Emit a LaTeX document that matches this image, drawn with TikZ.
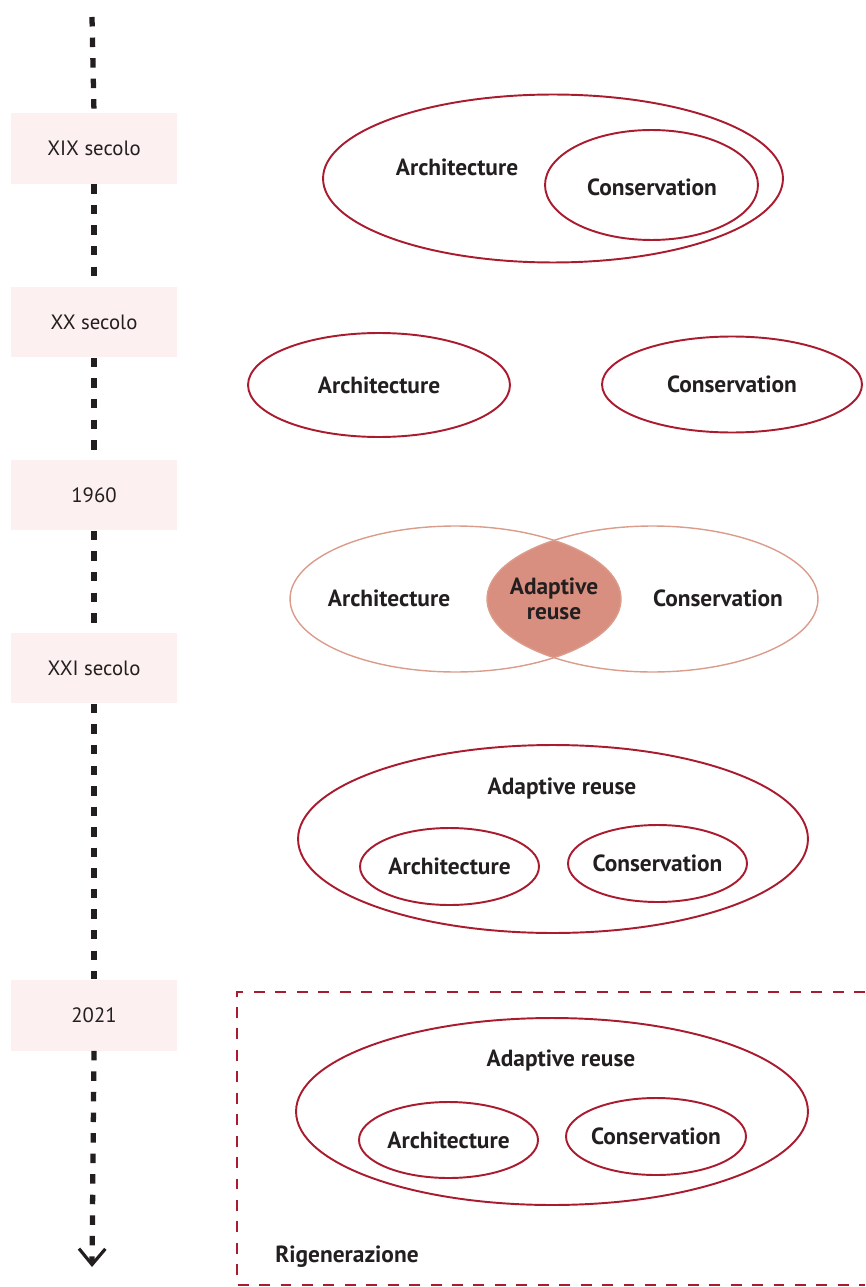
\documentclass[tikz,border=0pt]{standalone}
\usepackage{fontspec}
\setmainfont{PT Sans}
\usetikzlibrary{shapes.geometric,arrows.meta}
\definecolor{wine}{HTML}{A91B2F}
\definecolor{salmon}{HTML}{D98F7F}
\definecolor{lightsalmon}{HTML}{DB9C8C}
\definecolor{blush}{HTML}{FDF0F0}
\definecolor{ink}{HTML}{231F20}
\begin{document}
\begin{tikzpicture}[x=0.02cm,y=-0.02cm]
    \tikzstyle{period}=[fill=blush,minimum width=3.32cm,minimum height=1.42cm,inner sep=0pt,text=ink,font=\fontsize{11.8}{13}\selectfont]
    \tikzstyle{field}=[ellipse,draw=wine,line width=1.1pt,inner sep=0pt]
    \tikzstyle{word}=[text=ink,font=\fontsize{13.3}{14.5}\selectfont\bfseries,align=center]
    \tikzstyle{timeline}=[line width=3pt,dash pattern=on 5.4pt off 6.3pt,ink]
    \useasboundingbox (0,0) rectangle (865,1287);
    % time axis
    \node (b19)[period] at (94,148.5) {XIX secolo};
    \node (b20)[period] at (94,322) {XX secolo};
    \node (b60)[period] at (94,495) {1960};
    \node (b21)[period] at (94,668) {XXI secolo};
    \node (b2021)[period] at (94,1015) {2021};
    \coordinate (top) at (92,17);
    \coordinate (end) at (92,1267);
    \draw [timeline] (top) -- (b19.north);
    \draw [timeline] (b19.south) -- (b20.north);
    \draw [timeline] (b20.south) -- (b60.north);
    \draw [timeline] (b60.south) -- (b21.north);
    \draw [timeline] (b21.south) -- (b2021.north);
    \draw [timeline,-{Straight Barb[length=9pt,width=15pt,line width=1.8pt]}] (b2021.south) -- (end);
    % XIX secolo
    \node (arch19)[field,minimum width=9.2cm,minimum height=3.36cm] at (553,178.5) {};
    \node (cons19)[field,minimum width=4.26cm,minimum height=2.2cm] at (651.5,185) {};
    \node [word] at (457,167) {Architecture};
    \node [word] at (652,187) {Conservation};
    % XX secolo
    \node (arch20)[field,minimum width=5.24cm,minimum height=2.08cm] at (379,385) {};
    \node (cons20)[field,minimum width=5.2cm,minimum height=1.92cm] at (732,384.5) {};
    \node [word] at (arch20) {Architecture};
    \node [word] at (cons20) {Conservation};
    % 1960
    \begin{scope}
        \clip (455.5,599) ellipse [x radius=3.31cm,y radius=1.46cm];
        \fill [salmon] (652.5,599) ellipse [x radius=3.31cm,y radius=1.46cm];
    \end{scope}
    \node (arch60)[field,draw=lightsalmon,line width=0.8pt,minimum width=6.62cm,minimum height=2.92cm] at (455.5,599) {};
    \node (cons60)[field,draw=lightsalmon,line width=0.8pt,minimum width=6.62cm,minimum height=2.92cm] at (652.5,599) {};
    \node [word] at (389,598) {Architecture};
    \node [word] at (718,598) {Conservation};
    \node [word] at (554,599) {Adaptive\\reuse};
    % XXI secolo
    \node (reuse21)[field,minimum width=10.2cm,minimum height=3.76cm] at (553,839) {};
    \node (arch21)[field,minimum width=3.58cm,minimum height=1.54cm] at (449.5,866.5) {};
    \node (cons21)[field,minimum width=3.58cm,minimum height=1.54cm] at (657.5,863.5) {};
    \node [word] at (562,789) {Adaptive reuse};
    \node [word] at (arch21) {Architecture};
    \node [word] at (cons21) {Conservation};
    % 2021
    \draw [wine,line width=0.8pt,dash pattern=on 6.2pt off 6pt] (865,992) -- (237,992) -- (237,1285) -- (865,1285);
    \node (reuse2021)[field,minimum width=10.24cm,minimum height=3.74cm] at (552,1111.5) {};
    \node (arch2021)[field,minimum width=3.58cm,minimum height=1.52cm] at (448.5,1140) {};
    \node (cons2021)[field,minimum width=3.6cm,minimum height=1.54cm] at (656,1136.5) {};
    \node [word] at (561,1061) {Adaptive reuse};
    \node [word] at (arch2021) {Architecture};
    \node [word] at (cons2021) {Conservation};
    \node [word] at (347,1257) {Rigenerazione};
\end{tikzpicture}
\end{document}
